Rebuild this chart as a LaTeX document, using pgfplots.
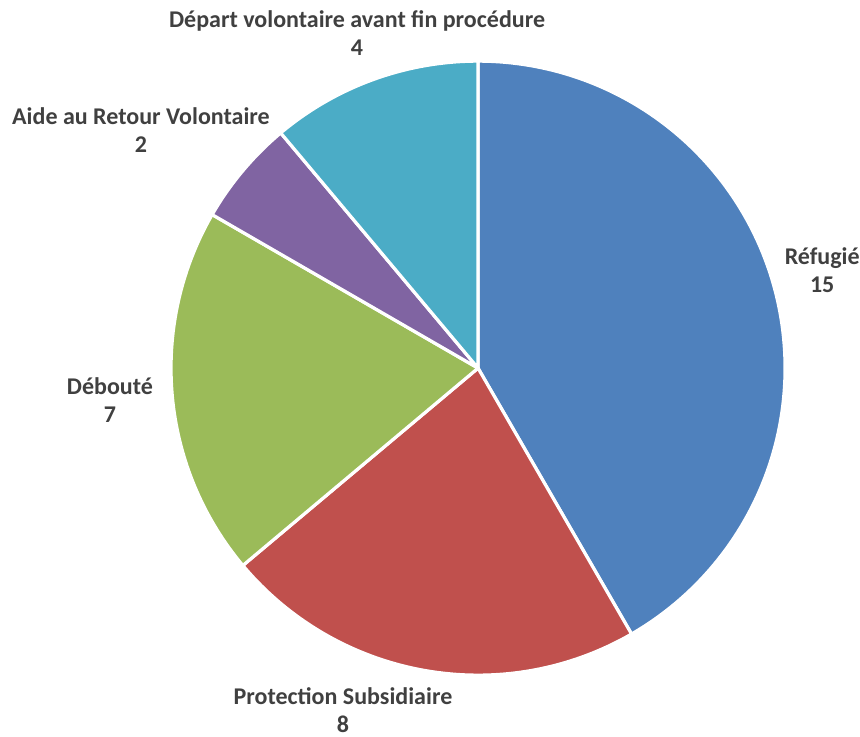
\documentclass[border=0pt]{standalone}
\usepackage{pgfplots}
\pgfplotsset{compat=1.18}
\usepackage{fontspec}
\setmainfont{Carlito}
\definecolor{cA}{HTML}{4F81BD}
\definecolor{cB}{HTML}{C0504D}
\definecolor{cC}{HTML}{9BBB59}
\definecolor{cD}{HTML}{8064A2}
\definecolor{cE}{HTML}{4BACC6}
\definecolor{txt}{HTML}{404040}
% values: Réfugié 15, Protection Subsidiaire 8, Débouté 7, Aide au Retour Volontaire 2, Départ volontaire 4 (total 36)
\def\vA{15}\def\vB{8}\def\vC{7}\def\vD{2}\def\vE{4}
\pgfmathsetmacro{\tot}{\vA+\vB+\vC+\vD+\vE}
\pgfmathsetmacro{\aO}{90}
\pgfmathsetmacro{\aA}{\aO-360*\vA/\tot}
\pgfmathsetmacro{\aB}{\aA-360*\vB/\tot}
\pgfmathsetmacro{\aC}{\aB-360*\vC/\tot}
\pgfmathsetmacro{\aD}{\aC-360*\vD/\tot}
\pgfmathsetmacro{\aE}{\aD-360*\vE/\tot}
\begin{document}
\begin{tikzpicture}
\begin{axis}[
  name=ax,
  x=153.5pt, y=153.5pt,
  xmin=-1.557, xmax=1.244, ymin=-1.199, ymax=1.199,
  hide axis, clip=false,
  every axis plot/.append style={draw=white, line width=1.6pt, line join=round},
]
\addplot[fill=cA, data cs=polar, domain=\aA:\aO, samples=120] ({x},{1}) -- (axis cs:0,0) -- cycle;
\addplot[fill=cB, data cs=polar, domain=\aB:\aA, samples=80] ({x},{1}) -- (axis cs:0,0) -- cycle;
\addplot[fill=cC, data cs=polar, domain=\aC:\aB, samples=70] ({x},{1}) -- (axis cs:0,0) -- cycle;
\addplot[fill=cD, data cs=polar, domain=\aD:\aC, samples=30] ({x},{1}) -- (axis cs:0,0) -- cycle;
\addplot[fill=cE, data cs=polar, domain=\aE:\aD, samples=50] ({x},{1}) -- (axis cs:0,0) -- cycle;
\begin{scope}[every node/.style={font=\bfseries\fontsize{12}{14}\selectfont, text=txt, align=center}]
\node at (axis cs:1.121,0.319) {Réfugié\\15};
\node at (axis cs:-0.440,-1.114) {Protection Subsidiaire\\8};
\node at (axis cs:-1.199,-0.104) {Débouté\\7};
\node at (axis cs:-1.098,0.775) {Aide au Retour Volontaire\\2};
\node at (axis cs:-0.394,1.091) {Départ volontaire avant fin procédure\\4};
\end{scope}
\end{axis}
\pgfresetboundingbox
\path[use as bounding box] (ax.south west) rectangle (ax.north east);
\end{tikzpicture}
\end{document}
